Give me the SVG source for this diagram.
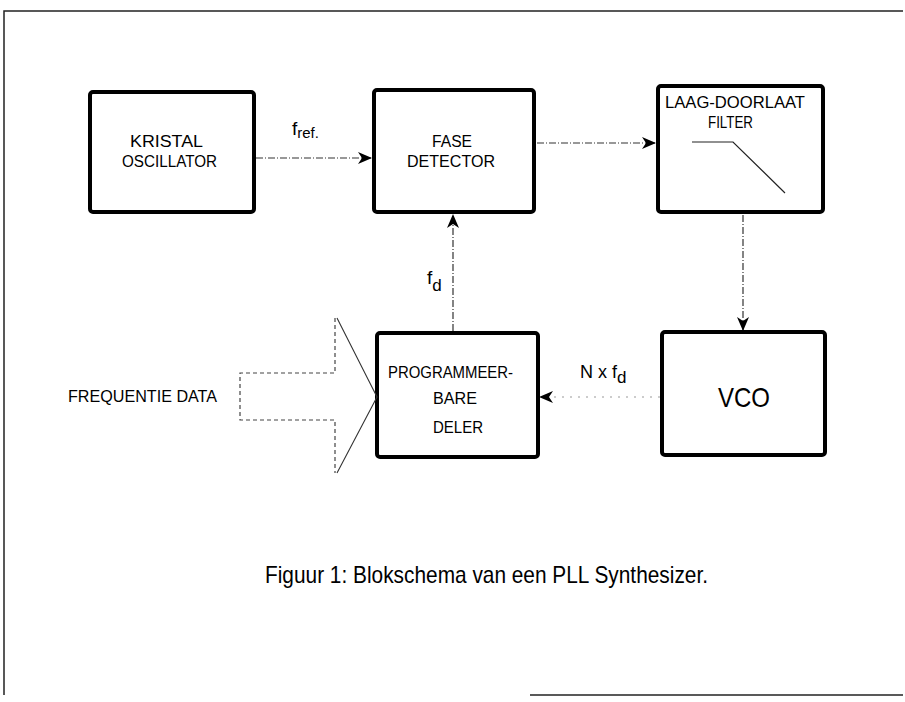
<svg xmlns="http://www.w3.org/2000/svg" width="905" height="702" viewBox="0 0 905 702">
<style>
.box{fill:#fff;stroke:#000;stroke-width:4}
.lbl{font-family:"Liberation Sans",Arial,sans-serif;font-size:16px;fill:#000}
.conn{fill:none;stroke:#333;stroke-width:1.2;stroke-dasharray:7 2 1 2}
.frame{fill:none;stroke:#222;stroke-width:1.5}
.big{fill:none;stroke:#444;stroke-width:1.2;stroke-dasharray:4 3}
</style>
<defs>
<marker id="ah" viewBox="0 0 14 12" refX="13" refY="6" markerWidth="14" markerHeight="12" markerUnits="userSpaceOnUse" orient="auto">
<path d="M0,0 L14,6 L0,12 L4,6 Z" fill="#000"/>
</marker>
</defs>
<rect width="905" height="702" fill="#fff"/>
<g id="frame">
<path class="frame" d="M4,695 L4,11 L903,11"/>
<path class="frame" d="M530,695 L903,695"/>
</g>
<g id="connectors">
<line class="conn" x1="256" y1="158" x2="371" y2="158" marker-end="url(#ah)"/>
<line class="conn" x1="537" y1="143" x2="655" y2="143" marker-end="url(#ah)"/>
<line class="conn" x1="743" y1="215" x2="743" y2="330" marker-end="url(#ah)"/>
<line class="conn" x1="660" y1="397" x2="540" y2="397" marker-end="url(#ah)" style="stroke:#999;stroke-dasharray:2 6"/>
<line class="conn" x1="453" y1="331" x2="453" y2="215" marker-end="url(#ah)"/>
</g>
<g id="kristal">
<rect class="box" x="90" y="92" width="164" height="120" rx="3"/>
<text class="lbl" x="130" y="147" textLength="73" lengthAdjust="spacingAndGlyphs">KRISTAL</text>
<text class="lbl" x="122" y="167" textLength="95" lengthAdjust="spacingAndGlyphs">OSCILLATOR</text>
</g>
<g id="fase">
<rect class="box" x="374" y="90" width="160" height="122" rx="3"/>
<text class="lbl" x="432" y="147" textLength="40" lengthAdjust="spacingAndGlyphs">FASE</text>
<text class="lbl" x="407" y="167" textLength="88" lengthAdjust="spacingAndGlyphs">DETECTOR</text>
</g>
<g id="filter">
<rect class="box" x="658" y="86" width="165" height="126" rx="3"/>
<text class="lbl" x="665" y="108" textLength="140" lengthAdjust="spacingAndGlyphs">LAAG-DOORLAAT</text>
<text class="lbl" x="708" y="128" textLength="45" lengthAdjust="spacingAndGlyphs">FILTER</text>
<path d="M692,142 L733,142 L785,193" fill="none" stroke="#222" stroke-width="1.2"/>
</g>
<g id="vco">
<rect class="box" x="662" y="332" width="163" height="123" rx="3"/>
<text class="lbl" x="718" y="407" style="font-size:28px" textLength="52" lengthAdjust="spacingAndGlyphs">VCO</text>
</g>
<g id="deler">
<rect class="box" x="377" y="333" width="161" height="124" rx="3"/>
<text class="lbl" x="388" y="378" textLength="125" lengthAdjust="spacingAndGlyphs">PROGRAMMEER-</text>
<text class="lbl" x="433" y="404" textLength="44" lengthAdjust="spacingAndGlyphs">BARE</text>
<text class="lbl" x="433" y="433" textLength="50" lengthAdjust="spacingAndGlyphs">DELER</text>
</g>
<g id="frequentie-data">
<path class="big" d="M335,318 L335,373 L240,373 L240,420 L335,420 L335,473"/>
<path d="M337,318 L377,397 L337,473" fill="none" stroke="#333" stroke-width="1.1"/>
<text class="lbl" x="68" y="402" textLength="149" lengthAdjust="spacingAndGlyphs">FREQUENTIE DATA</text>
</g>
<g id="labels">
<text class="lbl" x="292" y="135" style="font-size:19px">f<tspan style="font-size:15px" dy="3">ref.</tspan></text>
<text class="lbl" x="427" y="284" style="font-size:19px">f<tspan style="font-size:17px" dy="7">d</tspan></text>
<text class="lbl" x="580" y="378" style="font-size:18px">N x f<tspan style="font-size:17px" dy="5">d</tspan></text>
<text class="lbl" x="265" y="583" style="font-size:24px" textLength="443" lengthAdjust="spacingAndGlyphs">Figuur 1: Blokschema van een PLL Synthesizer.</text>
</g>
</svg>
